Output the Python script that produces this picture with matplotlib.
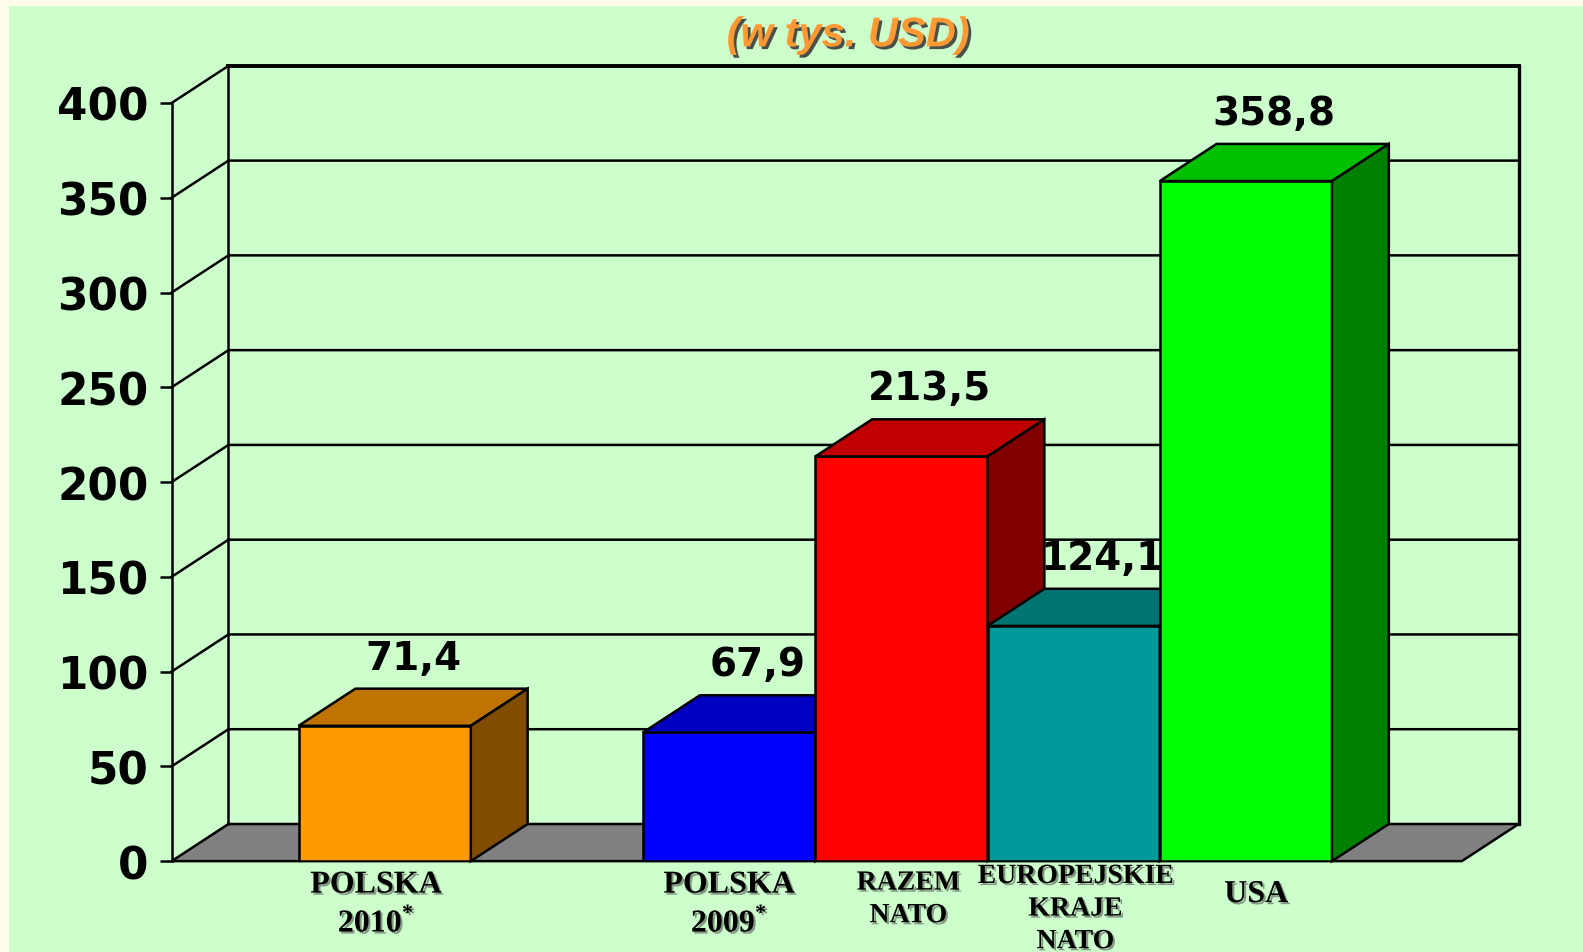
import matplotlib.pyplot as plt
import matplotlib.patheffects as pe
from matplotlib.patches import Polygon, Rectangle

plt.rcParams['mathtext.fontset'] = 'custom'
plt.rcParams['mathtext.rm'] = 'Liberation Serif:bold'
plt.rcParams['mathtext.bf'] = 'Liberation Serif:bold'

# data
categories = ['POLSKA\n2010$^{*}$', 'POLSKA\n2009$^{*}$', 'RAZEM\nNATO', 'EUROPEJSKIE\nKRAJE\nNATO', 'USA']
values = [71.4, 67.9, 213.5, 124.1, 358.8]
value_labels = ['71,4', '67,9', '213,5', '124,1', '358,8']
positions = [0, 2, 3, 4, 5]
front_colors = ['#FF9900', '#0000FF', '#FF0000', '#009999', '#00FF00']
top_colors = ['#BF7300', '#0000C0', '#C00000', '#007373', '#00C000']
side_colors = ['#7F4C00', '#000080', '#800000', '#004C4C', '#008000']
yticks = [0, 50, 100, 150, 200, 250, 300, 350, 400]

W, H = 1583, 953
fig = plt.figure(figsize=(W / 100, H / 100), dpi=100)
fig.patch.set_facecolor('#FFFDEA')
fig.patches.append(Rectangle((9 / W, -0.02), 1.1, 1.02 - 7 / H, transform=fig.transFigure,
                             facecolor='#CCFFCC', edgecolor='none', zorder=-5))

# axes placed so data maps onto the pixel layout
x0, x1 = -1.237, 6.254
ax = fig.add_axes([170 / 1568, 1 - 854 / 944, (1448 - 170) / 1568, (854 - 103) / 944])
ax.set_zorder(2)
ax.set_xlim(x0, x1)
ax.set_ylim(0, 400)
ax.patch.set_alpha(0)
for s in ax.spines.values():
    s.set_visible(False)

dx, dy = 0.33, 19.6
lw = 1.8

# floor
ax.add_patch(Polygon([(x0, 0), (x1, 0), (x1 + dx, dy), (x0 + dx, dy)], closed=True,
                     facecolor='#808080', edgecolor='black', lw=lw, zorder=1, clip_on=False))

# gridlines on the walls
for v in yticks[1:]:
    ax.plot([x0, x0 + dx, x1 + dx], [v, v + dy, v + dy], color='black', lw=lw,
            zorder=1, clip_on=False)
ax.plot([x0, x0], [0, 400], color='black', lw=lw, zorder=1, clip_on=False)
ax.plot([x0 + dx, x0 + dx], [dy, 400 + dy], color='black', lw=lw, zorder=1, clip_on=False)
ax.plot([x1 + dx, x1 + dx], [dy, 400 + dy], color='black', lw=2.4, zorder=1, clip_on=False)
ax.plot([x0 + dx, x1 + dx], [400 + dy, 400 + dy], color='black', lw=2.8, zorder=1, clip_on=False)

# bars
bars = ax.bar(positions, values, width=1.0, color=front_colors, edgecolor='black', linewidth=lw)
for i, (b, p, v) in enumerate(zip(bars, positions, values)):
    z = 3 + i
    b.set_zorder(z)
    l, r = p - 0.5, p + 0.5
    ax.add_patch(Polygon([(l, v), (r, v), (r + dx, v + dy), (l + dx, v + dy)], closed=True,
                         facecolor=top_colors[i], edgecolor='black', lw=lw, zorder=z, clip_on=False))
    ax.add_patch(Polygon([(r, 0), (r, v), (r + dx, v + dy), (r + dx, dy)], closed=True,
                         facecolor=side_colors[i], edgecolor='black', lw=lw, zorder=z, clip_on=False))
    ax.text(p + dx / 2, v + dy + 10.5, value_labels[i], ha='center', va='baseline',
            fontsize=28, fontweight='bold', family='DejaVu Sans', zorder=20)

shadow = [pe.withSimplePatchShadow(offset=(1.5, -1.5), shadow_rgbFace='#555555', alpha=0.6)]

# y axis ticks
ax.set_xticks([])
ax.set_yticks(yticks)
ax.tick_params(axis='y', length=8.5, width=1.8, pad=8, labelsize=31.5)
for t in ax.get_yticklabels():
    t.set_fontweight('bold')
    t.set_family('DejaVu Sans')

# category labels
label_sizes = [23, 23, 20, 20, 23]
label_tops = [-5, -5, -5, -1.5, -10]
label_dx = [-0.05, 0, 0.04, 0.01, 0.06]
label_ls = [1.32, 1.32, 1.4, 1.4, 1.2]
for p, c, fs, yt, ox, ls in zip(positions, categories, label_sizes, label_tops, label_dx, label_ls):
    ax.text(p + ox, yt, c, ha='center', va='top', fontsize=fs, fontweight='bold',
            family='Liberation Serif', linespacing=ls, clip_on=False, path_effects=shadow)

fig.text(840 / 1568, 1 - 36 / 944, '(w tys. USD)', ha='center', va='center', fontsize=30,
         fontweight='bold', style='italic', family='Liberation Sans', color='#FF9933',
         path_effects=[pe.withSimplePatchShadow(offset=(2, -2), shadow_rgbFace='#333333', alpha=0.85)])

fig.savefig('out.png', dpi=100, facecolor=fig.get_facecolor())
